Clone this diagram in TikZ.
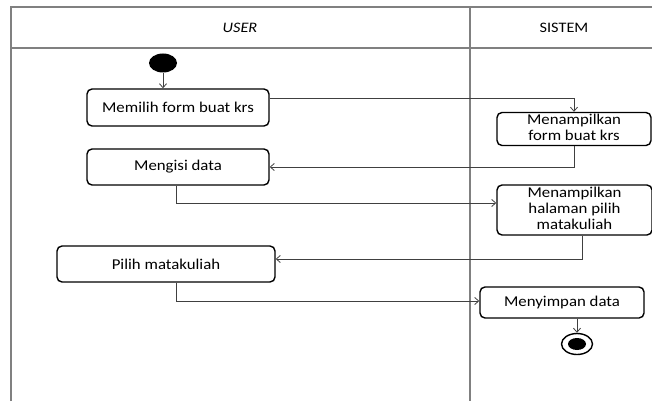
\documentclass[tikz,border=0pt]{standalone}
\usepackage{fontspec}
\setmainfont{Carlito}
\usetikzlibrary{arrows.meta,calc,shapes.geometric}
% slightly widened lettering used throughout the diagram
\newcommand{\wtext}[1]{\scalebox{1.12}[1]{#1}}
\newcommand{\wlines}[1]{\scalebox{1.12}[1]{\begin{tabular}{@{}c@{}}#1\end{tabular}}}
\tikzset{
  frameline/.style={draw=black!50, line width=1.3pt},
  activity/.style={draw=black, line width=1.4pt, rounded corners=5pt,
    inner sep=0pt, fill=white, font=\fontsize{15}{16}\selectfont},
  flow/.style={draw=black!75, line width=0.8pt,
    -{Straight Barb[length=4pt,width=7pt,line width=0.8pt]}},
  lanehead/.style={font=\fontsize{14.5}{16}\selectfont, inner sep=0pt},
}
\begin{document}
\begin{tikzpicture}[x=1pt,y=-1pt]
  \useasboundingbox (0,0) rectangle (652,401);

  % swimlane frame
  \draw[frameline] (11,401) -- (11,7) -- (652,7);
  \draw[frameline] (11,48) -- (652,48);
  \draw[frameline] (470,7) -- (470,401);

  \node[lanehead] (laneuser) at (240,28) {\wtext{\itshape USER}};
  \node[lanehead] (lanesys) at (564,28) {\wtext{SISTEM}};

  % initial and final states
  \node[draw=none, fill=black, ellipse, minimum width=28pt, minimum height=19pt,
        inner sep=0pt] (start) at (163,63) {};
  \node[draw=black, line width=1.4pt, fill=white, ellipse, minimum width=31pt,
        minimum height=21pt, inner sep=0pt] (finish) at (577,344) {};
  \node[fill=black, ellipse, minimum width=18pt, minimum height=12pt,
        inner sep=0pt] (finishdot) at (finish) {};

  % activities
  \node[activity, minimum width=182pt, minimum height=37pt] (memilih)
       at (178,107.5) {\wtext{Memilih form buat krs}};
  \node[activity, minimum width=154pt, minimum height=33pt] (tampilform)
       at (574,129) {\wlines{Menampilkan\\form buat krs}};
  \node[activity, minimum width=182pt, minimum height=36pt] (mengisi)
       at (178,167) {\wtext{Mengisi data}};
  \node[activity, minimum width=155pt, minimum height=50pt] (tampilhal)
       at (574.5,210) {\wlines{Menampilkan\\halaman pilih\\matakuliah}};
  \node[activity, minimum width=218pt, minimum height=36pt] (pilih)
       at (166,264) {\wtext{Pilih matakuliah}};
  \node[activity, minimum width=164pt, minimum height=31pt] (menyimpan)
       at (562,302.5) {\wtext{Menyimpan data}};

  % control flow
  \draw[flow] (start.south) -- (start.south |- memilih.north);
  \draw[flow] ([yshift=9.5pt]memilih.east) -| (tampilform.north);
  \draw[flow] (tampilform.south) |- (mengisi.east);
  \draw[flow] ([xshift=-2pt]mengisi.south) |- ([yshift=7pt]tampilhal.west);
  \draw[flow] ([xshift=7.5pt]tampilhal.south) |- ([yshift=5pt]pilih.east);
  \draw[flow] ([xshift=10pt]pilih.south) |- ([yshift=1.5pt]menyimpan.west);
  \draw[flow] (finish.north |- menyimpan.south) -- (finish.north);
\end{tikzpicture}
\end{document}
